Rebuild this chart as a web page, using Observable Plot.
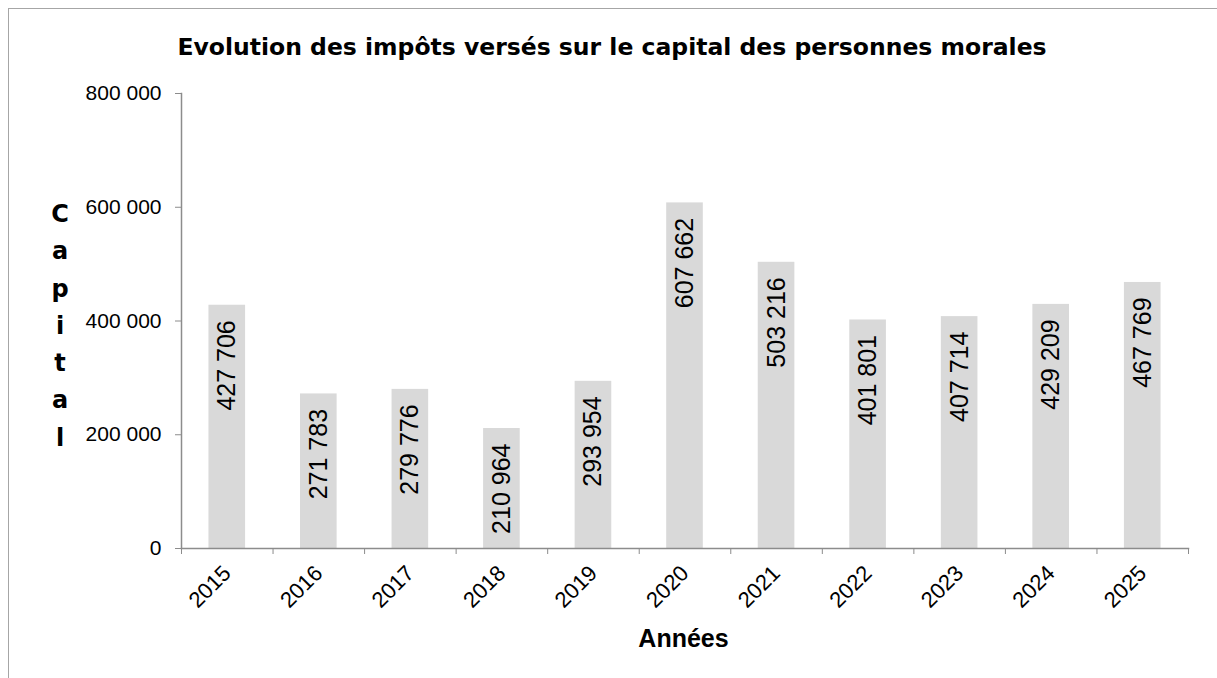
<!DOCTYPE html>
<html>
<head>
<meta charset="utf-8">
<script src="https://cdn.jsdelivr.net/npm/d3@7"></script>
<script src="https://cdn.jsdelivr.net/npm/@observablehq/plot@0.6"></script>
<style>
  html, body { margin: 0; padding: 0; background: #fff; overflow: hidden; }
  #wrap { position: relative; width: 1217px; height: 678px; overflow: hidden; }
  #border { position: absolute; left: 8px; top: 8px; width: 1400px; height: 1000px; border: 1px solid #a6a6a6; box-sizing: border-box; }
  #title { position: relative; height: 75px; box-sizing: border-box; padding-top: 35px; padding-left: 7px; line-height: 24px;
           text-align: center; font-family: "DejaVu Sans"; font-weight: bold; font-size: 23.5px; color: #000; white-space: nowrap; }
  #ylab { position: absolute; left: 40px; top: 196px; width: 40px; text-align: center; font-family: "DejaVu Sans"; font-weight: bold;
          font-size: 24px; line-height: 37.3px; color: #000; }
  #xlab { position: absolute; left: 583.5px; top: 626px; width: 200px; text-align: center; font-family: "Liberation Sans", Arial, sans-serif;
          font-weight: bold; font-size: 25px; line-height: 25px; color: #000; }
  #chart svg { display: block; }
</style>
</head>
<body>
<div id="wrap">
  <div id="border"></div>
  <div id="title"></div>
  <div id="chart"></div>
  <div id="ylab"></div>
  <div id="xlab"></div>
</div>
<script>
const titleText = "Evolution des impôts versés sur le capital des personnes morales";
const yLabel = "Capital";
const xLabel = "Années";
const years = [2015, 2016, 2017, 2018, 2019, 2020, 2021, 2022, 2023, 2024, 2025];
const values = [427706, 271783, 279776, 210964, 293954, 607662, 503216, 401801, 407714, 429209, 467769];
const yTicks = [0, 200000, 400000, 600000, 800000];

const fmt = d3.formatLocale({decimal: ",", thousands: " ", grouping: [3], currency: ["", " €"]}).format(",d");
const data = years.map((year, i) => ({year, value: values[i]}));
const boundaries = [years[0] - 0.5, ...years.map(y => y + 0.5)];
const axisColor = "#8c8c8c";

document.getElementById("title").textContent = titleText;
document.getElementById("ylab").innerHTML = yLabel.split("").map(c => `<div>${c}</div>`).join("");
document.getElementById("xlab").textContent = xLabel;

const chart = Plot.plot({
  width: 1217,
  height: 603,
  marginTop: 18,
  marginBottom: 130,
  marginLeft: 181,
  marginRight: 29,
  style: {fontFamily: "'Liberation Sans', Arial, sans-serif", fontSize: "21px", color: "#000", background: "transparent"},
  x: {type: "linear", domain: [years[0] - 0.5, years[years.length - 1] + 0.5]},
  y: {domain: [0, 800000]},
  marks: [
    Plot.rectY(data, {x1: d => d.year - 0.2, x2: d => d.year + 0.2, y: "value", fill: "#d9d9d9"}),
    Plot.frame({anchor: "left", stroke: axisColor, strokeWidth: 1.5}),
    Plot.frame({anchor: "bottom", stroke: axisColor, strokeWidth: 1.5}),
    Plot.axisY({ticks: yTicks, tickSize: 6, tickPadding: 14, tickFormat: fmt, stroke: axisColor, fill: "#000", label: null, fontSize: 21}),
    Plot.axisX({ticks: boundaries, tickSize: 6, tickFormat: () => "", stroke: axisColor, label: null}),
    Plot.axisX({ticks: years, tickSize: 0, tickPadding: 21, tickRotate: -45, tickFormat: d => String(d), fill: "#000", label: null, fontSize: 22}),
    Plot.text(data, {x: "year", y: "value", text: d => fmt(d.value), rotate: -90, textAnchor: "end", lineAnchor: "middle", dy: 15, fontSize: 25, fill: "#000"})
  ]
});
document.getElementById("chart").appendChild(chart);
</script>
</body>
</html>
